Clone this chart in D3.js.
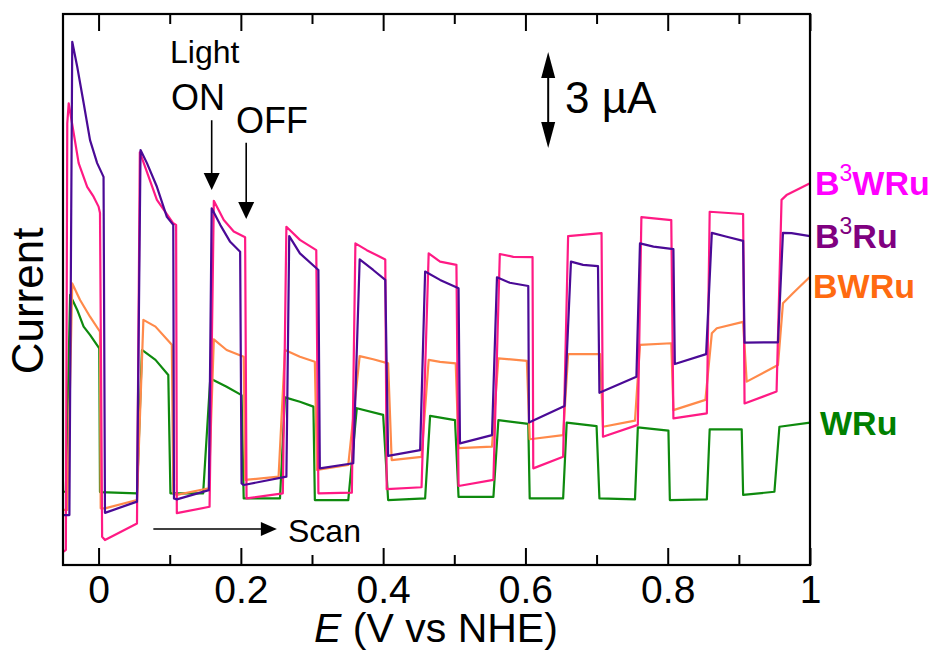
<!DOCTYPE html>
<html>
<head>
<meta charset="utf-8">
<script src="https://cdn.jsdelivr.net/npm/d3@7"></script>
<style>
  body { margin: 0; background: #fff; }
  text { font-family: "Liberation Sans", Arial, sans-serif; }
</style>
</head>
<body>
<script>
// E (V vs NHE) ticks
const xMajor = [0, 0.2, 0.4, 0.6, 0.8, 1];
const xMinor = [0.1, 0.3, 0.5, 0.7, 0.9];
const xLabels = ["0", "0.2", "0.4", "0.6", "0.8", "1"];

// photocurrent traces, [E in V, current in uA] (arbitrary offset)
const b3wruPts = [
  [-0.049, 0.42], [-0.046, 0.47], [-0.044, 13.8], [-0.042, 14.43], [-0.035, 13.50], [-0.028, 12.56],
  [-0.016, 11.82], [-0.007, 11.51], [0.000, 11.20], [0.002, 11.00], [0.005, 0.88], [0.009, 0.78],
  [0.054, 1.30], [0.058, 12.90], [0.082, 11.41], [0.105, 10.68], [0.109, 10.63], [0.110, 1.62],
  [0.156, 1.82], [0.162, 11.38], [0.176, 10.78], [0.190, 10.42], [0.206, 10.24], [0.208, 2.08],
  [0.259, 2.24], [0.264, 10.57], [0.283, 10.16], [0.306, 9.84], [0.309, 2.24],
  [0.356, 2.26], [0.361, 10.05], [0.377, 9.84], [0.403, 9.55], [0.405, 2.37],
  [0.454, 2.43], [0.464, 9.74], [0.480, 9.48], [0.503, 9.38], [0.506, 2.47],
  [0.555, 2.66], [0.564, 9.72], [0.583, 9.63], [0.610, 9.62], [0.611, 3.02],
  [0.653, 3.38], [0.660, 10.28], [0.707, 10.37], [0.709, 4.01],
  [0.758, 4.38], [0.763, 10.87], [0.805, 10.78], [0.808, 4.58],
  [0.855, 4.74], [0.859, 11.04], [0.906, 10.97], [0.908, 5.05],
  [0.953, 5.42], [0.960, 11.41], [0.967, 11.56], [1.0, 11.93]
];

const b3ruPts = [
  [-0.049, 1.56], [-0.041, 1.56], [-0.037, 16.35], [-0.030, 15.57], [-0.021, 14.44], [-0.012, 13.28],
  [-0.002, 12.56], [0.007, 12.13], [0.009, 1.63], [0.054, 1.98], [0.059, 12.97], [0.068, 12.56],
  [0.082, 11.82], [0.096, 10.88], [0.105, 10.63], [0.106, 2.08], [0.110, 2.05],
  [0.155, 2.34], [0.159, 11.15], [0.171, 10.63], [0.185, 10.10], [0.199, 9.79], [0.201, 2.55], [0.204, 2.50],
  [0.264, 2.76], [0.268, 10.28], [0.283, 9.74], [0.309, 9.22], [0.311, 3.02],
  [0.358, 3.18], [0.367, 9.55], [0.386, 9.22], [0.403, 8.91], [0.407, 3.41],
  [0.452, 3.59], [0.459, 9.17], [0.480, 8.91], [0.506, 8.65], [0.508, 3.80],
  [0.553, 4.06], [0.560, 8.99], [0.578, 8.82], [0.604, 8.72], [0.605, 4.45],
  [0.655, 4.97], [0.664, 9.48], [0.681, 9.38], [0.702, 9.34], [0.704, 5.38],
  [0.756, 5.88], [0.761, 10.05], [0.780, 9.95], [0.808, 9.87], [0.810, 6.28],
  [0.854, 6.59], [0.862, 10.38], [0.883, 10.26], [0.906, 10.13], [0.908, 6.95],
  [0.955, 6.96], [0.962, 10.38], [0.974, 10.37], [1.0, 10.28]
];

const bwruPts = [
  [-0.049, 1.72], [-0.044, 1.72], [-0.037, 8.80], [-0.026, 8.28], [-0.012, 7.76], [0.002, 7.29],
  [0.003, 1.77], [0.009, 1.77], [0.054, 2.03], [0.063, 7.66], [0.080, 7.45], [0.103, 6.88],
  [0.105, 2.24], [0.110, 2.19], [0.155, 2.40], [0.162, 7.05], [0.180, 6.72], [0.204, 6.51],
  [0.206, 2.66], [0.253, 2.76], [0.262, 6.72], [0.283, 6.51], [0.304, 6.35],
  [0.307, 2.97], [0.351, 3.13], [0.367, 6.53], [0.386, 6.43], [0.407, 6.30],
  [0.412, 3.28], [0.454, 3.38], [0.464, 6.41], [0.480, 6.35], [0.502, 6.30],
  [0.506, 3.65], [0.553, 3.70], [0.562, 6.46], [0.602, 6.38],
  [0.606, 3.93], [0.653, 4.06], [0.660, 6.59], [0.705, 6.59],
  [0.709, 4.32], [0.754, 4.51], [0.761, 6.88], [0.805, 6.93],
  [0.808, 4.84], [0.853, 5.16], [0.862, 7.24], [0.869, 7.40], [0.906, 7.60],
  [0.911, 5.73], [0.955, 6.25], [0.962, 8.18], [0.976, 8.49], [1.0, 9.01]
];

const wruPts = [
  [-0.049, 2.29], [-0.046, 2.29], [-0.040, 8.44], [-0.030, 7.97], [-0.021, 7.45], [-0.012, 7.19],
  [0.001, 6.77], [0.002, 2.28], [0.054, 2.24], [0.061, 6.72], [0.080, 6.41], [0.098, 5.94],
  [0.101, 2.24], [0.147, 2.24], [0.157, 5.83], [0.180, 5.57], [0.201, 5.31],
  [0.204, 2.08], [0.255, 2.08], [0.262, 5.24], [0.283, 5.10], [0.302, 4.95],
  [0.304, 2.03], [0.351, 2.03], [0.363, 4.90], [0.400, 4.69],
  [0.407, 2.03], [0.459, 2.08], [0.466, 4.66], [0.501, 4.53],
  [0.506, 2.13], [0.555, 2.13], [0.562, 4.53], [0.604, 4.41],
  [0.606, 2.08], [0.653, 2.08], [0.658, 4.45], [0.700, 4.34],
  [0.704, 2.08], [0.754, 2.05], [0.758, 4.30], [0.801, 4.20],
  [0.803, 2.03], [0.855, 2.05], [0.859, 4.24], [0.904, 4.24],
  [0.906, 2.19], [0.950, 2.29], [0.957, 4.32], [1.0, 4.45]
];

const seriesNames = ["WRu", "BWRu", "B3WRu", "B3Ru"];
const lineColors = ["#0e8a0e", "#ff8a4a", "#ff1a84", "#4a0a96"];
const labelColors = ["#008000", "#ff6a10", "#ff00ff", "#800080"];

const svg = d3.select("body").append("svg")
    .attr("width", 941)
    .attr("height", 652);

const x = d3.scaleLinear().domain([-0.05, 1.0]).range([63, 810]);
const y = d3.scaleLinear().domain([0, 17.22]).range([565, 14]);

// traces
const line = d3.line().x(d => x(d[0])).y(d => y(d[1]));
[wruPts, bwruPts, b3wruPts, b3ruPts].forEach((pts, i) => {
  svg.append("path")
      .attr("d", line(pts))
      .attr("fill", "none")
      .attr("stroke", lineColors[i])
      .attr("stroke-width", 2.2)
      .attr("stroke-linejoin", "round");
});

// frame
svg.append("rect")
    .attr("x", 63).attr("y", 14)
    .attr("width", 747).attr("height", 551)
    .attr("fill", "none")
    .attr("stroke", "#000")
    .attr("stroke-width", 2.2);

// bottom axis, ticks pointing inward
const bottomAxis = svg.append("g")
    .attr("transform", "translate(0,565)")
    .call(d3.axisBottom(x).tickValues(xMajor).tickSize(-17)
      .tickFormat((d, i) => xLabels[i]));
bottomAxis.append("g")
    .call(d3.axisBottom(x).tickValues(xMinor).tickSize(-10).tickFormat(""));
bottomAxis.selectAll(".domain").remove();
bottomAxis.selectAll("line").attr("stroke", "#000").attr("stroke-width", 2);
bottomAxis.selectAll("text")
    .attr("y", 38).attr("dy", 0)
    .attr("fill", "#000")
    .style("font-size", "39px");

// top axis, mirrored ticks
const topAxis = svg.append("g")
    .attr("transform", "translate(0,14)")
    .call(d3.axisTop(x).tickValues(xMajor).tickSize(-17).tickFormat(""));
topAxis.append("g")
    .call(d3.axisTop(x).tickValues(xMinor).tickSize(-10).tickFormat(""));
topAxis.selectAll(".domain").remove();
topAxis.selectAll("line").attr("stroke", "#000").attr("stroke-width", 2);

// axis titles
const xt = svg.append("text")
    .attr("x", 436).attr("y", 642)
    .attr("text-anchor", "middle")
    .style("font-size", "41px");
xt.append("tspan").style("font-style", "italic").text("E");
xt.append("tspan").text(" (V vs NHE)");

svg.append("text")
    .attr("transform", "translate(43,301) rotate(-90)")
    .attr("text-anchor", "middle")
    .style("font-size", "44px")
    .text("Current");

// arrow helper
function arrowDown(xv, y0, y1, len, half) {
  const px = x(xv), p0 = y(y0), p1 = y(y1);
  svg.append("line").attr("x1", px).attr("x2", px).attr("y1", p0).attr("y2", p1 - len)
      .attr("stroke", "#000").attr("stroke-width", 1.6);
  svg.append("path")
      .attr("d", `M${px},${p1} L${px - half},${p1 - len} L${px + half},${p1 - len} Z`)
      .attr("fill", "#000");
}

// light on / off annotation
svg.append("text").attr("x", 170).attr("y", 63).style("font-size", "32px").text("Light");
svg.append("text").attr("x", 171).attr("y", 110).style("font-size", "36px").text("ON");
svg.append("text").attr("x", 236).attr("y", 133).style("font-size", "36px").text("OFF");
arrowDown(0.159, 13.9, 11.72, 17, 8);
arrowDown(0.2075, 13.2, 10.81, 17, 8);

// 3 uA scale bar
const sx = x(0.632), sTop = y(16.03), sBot = y(13.03);
svg.append("line").attr("x1", sx).attr("x2", sx).attr("y1", sTop + 20).attr("y2", sBot - 20)
    .attr("stroke", "#000").attr("stroke-width", 2);
svg.append("path")
    .attr("d", `M${sx},${sTop} L${sx - 7},${sTop + 26} L${sx + 7},${sTop + 26} Z`)
    .attr("fill", "#000");
svg.append("path")
    .attr("d", `M${sx},${sBot} L${sx - 7},${sBot - 26} L${sx + 7},${sBot - 26} Z`)
    .attr("fill", "#000");
svg.append("text").attr("x", 565).attr("y", 113).style("font-size", "44px").text("3 \u00b5A");

// scan direction
const scY = y(1.125), sc0 = x(0.077), sc1 = x(0.2506);
svg.append("line").attr("x1", sc0).attr("x2", sc1 - 14).attr("y1", scY).attr("y2", scY)
    .attr("stroke", "#000").attr("stroke-width", 1.6);
svg.append("path")
    .attr("d", `M${sc1},${scY} L${sc1 - 16},${scY - 7} L${sc1 - 16},${scY + 7} Z`)
    .attr("fill", "#000");
svg.append("text").attr("x", 288).attr("y", 542).style("font-size", "32px").text("Scan");

// series labels at right
const labelPos = [[820, 435], [813, 298], [815, 195], [815, 248]];
seriesNames.forEach((name, i) => {
  const t = svg.append("text")
      .attr("x", labelPos[i][0]).attr("y", labelPos[i][1])
      .attr("fill", labelColors[i])
      .style("font-size", "34px")
      .style("font-weight", "bold");
  if (name.startsWith("B3")) {
    t.append("tspan").text("B");
    t.append("tspan").attr("dy", -14).style("font-size", "23px").style("font-weight", "normal").text("3");
    t.append("tspan").attr("dy", 14).text(name.slice(2));
  } else {
    t.text(name);
  }
});
</script>
</body>
</html>
